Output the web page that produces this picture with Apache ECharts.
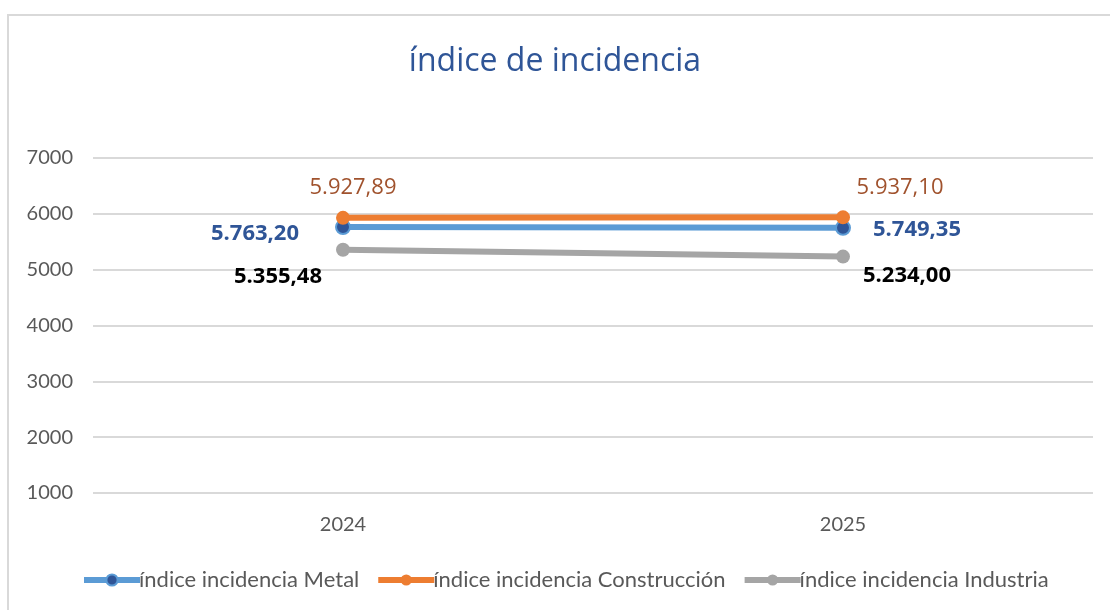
<!DOCTYPE html>
<html>
<head>
<meta charset="utf-8">
<script src="https://cdn.jsdelivr.net/npm/echarts@6/dist/echarts.min.js"></script>
<style>
  html, body { margin: 0; padding: 0; background: #fff; }
  #frame { position: absolute; left: 7px; top: 14px; width: 1103px; height: 596px;
           border-left: 2px solid #d9d9d9; border-top: 2px solid #d9d9d9; box-sizing: border-box; }
  #chart { position: absolute; left: 0; top: 0; width: 1110px; height: 610px; }
</style>
</head>
<body>
<div id="frame"></div>
<div id="chart"></div>
<script>
const years = ['2024', '2025']
const metal = [5763.20, 5749.35]
const construccion = [5927.89, 5937.10]
const industria = [5355.48, 5234.00]
const seriesNames = ['índice incidencia Metal', 'índice incidencia Construcción', 'índice incidencia Industria']

// formato español: 5.763,20
function fmt(v) {
  const parts = v.toFixed(2).split('.')
  return parts[0].replace(/\B(?=(\d{3})+(?!\d))/g, '.') + ',' + parts[1]
}

const labelFont = "'Open Sans', 'Noto Sans', sans-serif"
const axisFont = "Lato, 'Liberation Sans', sans-serif"

function withLabels(values, labels) {
  return values.map((v, i) => ({ value: v, label: labels[i] }))
}

const chart = echarts.init(document.getElementById('chart'))
chart.setOption({
  animation: false,
  title: {
    text: 'índice de incidencia',
    left: 'center',
    top: 41,
    textStyle: { color: '#2F5597', fontSize: 32, fontWeight: 'normal', fontFamily: labelFont }
  },
  grid: { left: 93, right: 17, top: 158, bottom: 117 },
  legend: {
    left: 76,
    top: 564,
    itemWidth: 56,
    itemHeight: 14,
    itemGap: 16,
    lineStyle: { width: 6 },
    textStyle: { color: '#595959', fontSize: 22, fontFamily: axisFont, padding: [0, 0, 0, -6] },
    data: seriesNames
  },
  xAxis: {
    type: 'category',
    data: years,
    axisLine: { show: false },
    axisTick: { show: false },
    axisLabel: { color: '#595959', fontSize: 20, fontFamily: axisFont, margin: 22 }
  },
  yAxis: {
    type: 'value',
    min: 1000,
    max: 7000,
    interval: 1000,
    axisLabel: { color: '#595959', fontSize: 20, fontFamily: axisFont, margin: 20, formatter: v => String(v) },
    splitLine: { lineStyle: { color: '#d9d9d9', width: 2 } }
  },
  series: [
    {
      name: seriesNames[0],
      type: 'line',
      z: 3,
      symbol: 'circle',
      symbolSize: 14,
      lineStyle: { color: '#5B9BD5', width: 6 },
      itemStyle: { color: '#2F5597', borderColor: '#5B9BD5', borderWidth: 2 },
      label: {
        show: true,
        formatter: p => fmt(p.value),
        color: '#2F5597', fontWeight: 'bold', fontSize: 22, fontFamily: labelFont
      },
      data: withLabels(metal, [
        { position: 'left', distance: 36, offset: [0, 7] },
        { position: 'right', distance: 22, offset: [0, 2] }
      ])
    },
    {
      name: seriesNames[1],
      type: 'line',
      z: 4,
      symbol: 'circle',
      symbolSize: 14,
      lineStyle: { color: '#ED7D31', width: 6 },
      itemStyle: { color: '#ED7D31' },
      label: {
        show: true,
        formatter: p => fmt(p.value),
        color: '#A0522D', fontSize: 22, fontFamily: labelFont
      },
      data: withLabels(construccion, [
        { position: 'top', distance: 12, offset: [10, 0] },
        { position: 'top', distance: 12, offset: [57, 0] }
      ])
    },
    {
      name: seriesNames[2],
      type: 'line',
      z: 2,
      symbol: 'circle',
      symbolSize: 14,
      lineStyle: { color: '#A5A5A5', width: 6 },
      itemStyle: { color: '#A5A5A5' },
      label: {
        show: true,
        formatter: p => fmt(p.value),
        color: '#000000', fontWeight: 'bold', fontSize: 22, fontFamily: labelFont
      },
      data: withLabels(industria, [
        { position: 'inside', offset: [-65, 27] },
        { position: 'inside', offset: [64, 19] }
      ])
    }
  ]
})
</script>
</body>
</html>
